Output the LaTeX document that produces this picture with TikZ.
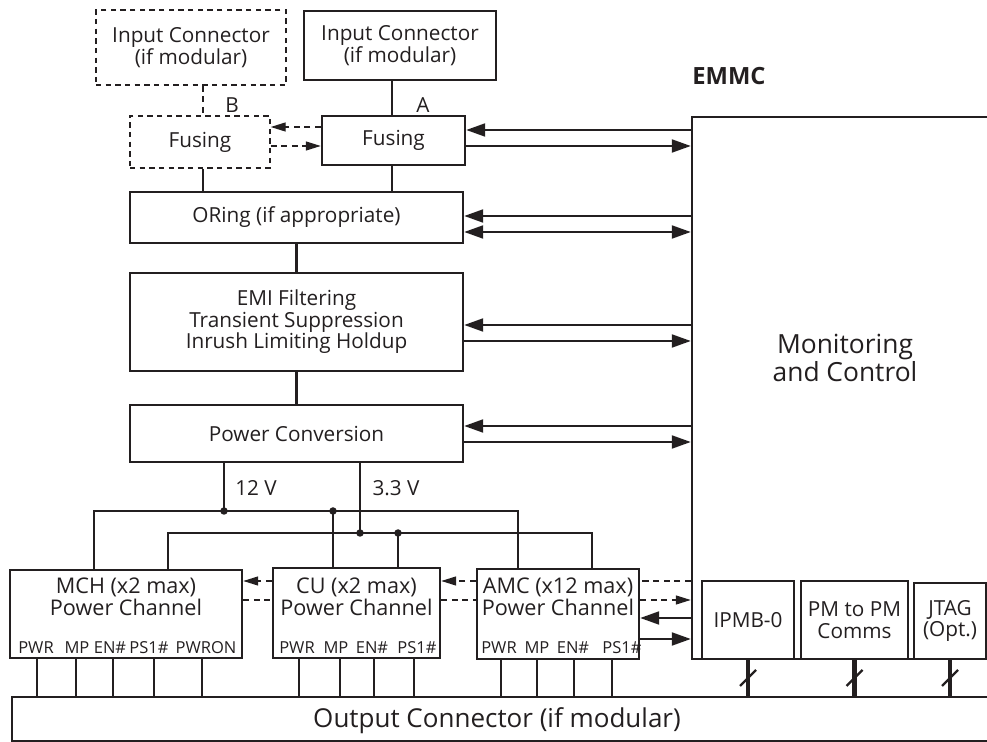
\documentclass[tikz,border=0pt]{standalone}
\usepackage{fontspec}
\setmainfont{Open Sans}
\usepackage{tikz}
\usetikzlibrary{arrows.meta,calc}
\usepackage{xcolor}
\definecolor{pmink}{RGB}{35,31,32}
\newcommand{\mainsize}{\fontsize{11.8}{12.2}\selectfont}
\newcommand{\chansize}{\fontsize{12.3}{12.4}\selectfont}
\newcommand{\pinsize}{\fontsize{9.4}{9.6}\selectfont}
\tikzset{
  blockbox/.style={draw=pmink,line width=1.4pt,inner sep=0pt,align=center,font=\mainsize,fill=white},
  optbox/.style={draw=pmink,line width=0.8pt,dash pattern=on 3pt off 2.5pt,inner sep=0pt,align=center,font=\mainsize},
  wire/.style={draw=pmink,line width=1.2pt},
  optwire/.style={draw=pmink,line width=0.8pt,dash pattern=on 3.5pt off 2.5pt},
  sigarrow/.style={wire,-{Triangle[length=3.8mm,width=2.6mm]}},
  dualarrow/.style={wire,{Triangle[length=3.8mm,width=2.6mm]}-{Triangle[length=3.8mm,width=2.6mm]}},
  optarrow/.style={optwire,-{Triangle[length=3mm,width=1.8mm]}},
  junction/.style={circle,fill=pmink,inner sep=0pt,minimum size=1.5mm},
  pinlabel/.style={font=\pinsize,inner sep=0pt,anchor=base},
  textlabel/.style={font=\mainsize,inner sep=0pt,anchor=base},
  busline/.style={draw=pmink,line width=2.6pt},
  slashmark/.style={draw=pmink,line width=1.3pt}
}

\begin{document}
\begin{tikzpicture}[x=0.2mm,y=-0.2mm,text=pmink]
  \useasboundingbox (0,0) rectangle (987,742);
  \clip (0,0) rectangle (987,742);
  % input chain
  \node[optbox,minimum width=38mm,minimum height=15mm] (incB) at (191,47.5) {Input Connector\\(if modular)};
  \node[blockbox,minimum width=38.4mm,minimum height=13.8mm] (incA) at (400,45.5) {Input Connector\\(if modular)};
  \node[optbox,minimum width=28mm,minimum height=10.4mm] (fuseB) at (200,142) {Fusing};
  \node[blockbox,minimum width=28.6mm,minimum height=9.8mm] (fuseA) at (393.5,140.5) {Fusing};
  \node[blockbox,minimum width=66.6mm,minimum height=10.2mm] (oring) at (296.5,217.5) {ORing (if appropriate)};
  \node[blockbox,minimum width=66.6mm,minimum height=19.6mm] (emi) at (296.5,322) {EMI Filtering\\Transient Suppression\\Inrush Limiting Holdup};
  \node[blockbox,minimum width=66.6mm,minimum height=11.4mm] (pconv) at (296.5,433.5) {Power Conversion};
  \node[textlabel] (labB) at (232,113) {B};
  \node[textlabel] (labA) at (423,113) {A};
  % EMMC
  \node[blockbox,minimum width=61.6mm,minimum height=108.4mm] (emmc) at (846,388) {};
  \node[font=\fontsize{13.5}{14}\selectfont\bfseries,anchor=base west,inner sep=0pt] (emmctitle) at (692,85) {EMMC};
  \node[font=\fontsize{15}{13.8}\selectfont,align=center] (montext) at (845,358) {Monitoring\\and Control};
  \node[blockbox,minimum width=18.4mm,minimum height=15.6mm] (ipmb) at (748,620) {IPMB-0};
  \node[blockbox,minimum width=21.4mm,minimum height=15.6mm] (pmpm) at (854.5,620) {PM to PM\\Comms};
  \node[blockbox,minimum width=14.4mm,minimum height=15.2mm] (jtag) at (950,621) {JTAG\\(Opt.)};
  % power channels
  \node[blockbox,minimum width=46.4mm,minimum height=17.6mm] (mch) at (126,614) {};
  \node[blockbox,minimum width=33.4mm,minimum height=18mm] (cu) at (356.5,613) {};
  \node[blockbox,minimum width=32.4mm,minimum height=18mm] (amc) at (558,614) {};
  \node[font=\chansize,align=center] (mchtitle) at (126,597) {MCH (x2 max)\\Power Channel};
  \node[font=\chansize,align=center] (cutitle) at (356.5,597) {CU (x2 max)\\Power Channel};
  \node[font=\chansize,align=center] (amctitle) at (558,597) {AMC (x12 max)\\Power Channel};
  \node[blockbox,minimum width=197.6mm,minimum height=8.8mm] (outc) at (506,719) {};
  \node[font=\fontsize{14.8}{15}\selectfont] (outtext) at (497,721) {Output Connector (if modular)};

  % input side wiring
  \draw[optwire] (incB.south -| 203,0) -- (fuseB.north -| 203,0);
  \draw[wire] (incA.south -| 392,0) -- (fuseA.north -| 392,0);
  \draw[wire] (fuseB.south -| 203,0) -- (oring.north -| 203,0);
  \draw[wire] (fuseA.south -| 392,0) -- (oring.north -| 392,0);
  \draw[wire] (oring) -- (emi);
  \draw[wire] (emi) -- (pconv);
  \draw[optarrow] (fuseA.west |- 0,127) -- (fuseB.east |- 0,127);
  \draw[optarrow] (fuseB.east |- 0,146) -- (fuseA.west |- 0,146);

  % monitoring lines
  \foreach \blk/\ya/\yb in {fuseA/130/146, emi/325/341, pconv/426/442} {
    \draw[sigarrow] (emmc.west |- 0,\ya) -- (\blk.east |- 0,\ya);
    \draw[sigarrow] (\blk.east |- 0,\yb) -- (emmc.west |- 0,\yb);
  }
  \draw[sigarrow] (emmc.west |- 0,216) -- (oring.east |- 0,216);
  \draw[dualarrow] (oring.east |- 0,232) -- (emmc.west |- 0,232);

  % 12 V and 3.3 V distribution
  \coordinate (b12) at (224,511);
  \coordinate (b33) at (360,533);
  \coordinate (c12) at (333,511);
  \coordinate (c33) at (398,533);
  \draw[wire] (pconv.south -| b12) -- (b12);
  \draw[wire] (pconv.south -| b33) -- (b33);
  \draw[wire] (mch.north -| 94,0) |- (b12) -| (amc.north -| 518,0);
  \draw[wire] (mch.north -| 168,0) |- (b33) -| (amc.north -| 592,0);
  \draw[wire] (c12) -- (cu.north -| c12);
  \draw[wire] (c33) -- (cu.north -| c33);
  \foreach \j in {b12,c12,b33,c33} \node[junction] (dot\j) at (\j) {};
  \node[textlabel] (lab12) at (256,496) {12 V};
  \node[textlabel] (lab33) at (396,496) {3.3 V};

  % channel signals
  \draw[optwire] (emmc.west |- 0,581) -- (amc.east |- 0,581);
  \draw[optarrow] (amc.west |- 0,581) -- (cu.east |- 0,581);
  \draw[optarrow] (cu.west |- 0,581) -- (mch.east |- 0,581);
  \draw[optwire] (mch.east |- 0,600) -- (cu.west |- 0,600);
  \draw[optwire] (cu.east |- 0,600) -- (amc.west |- 0,600);
  \draw[optarrow] (amc.east |- 0,600) -- (emmc.west |- 0,600);
  \draw[sigarrow] (emmc.west |- 0,618) -- (amc.east |- 0,618);
  \draw[sigarrow] (amc.east |- 0,639) -- (emmc.west |- 0,639);

  % pins to output connector
  \foreach \xp/\xl/\pin [count=\k] in {37/36/PWR, 76/77/MP, 113/110/EN\#, 154/149/PS1\#, 202/206/PWRON} {
    \draw[wire] (mch.south -| \xp,0) -- (outc.north -| \xp,0);
    \node[pinlabel] (mchpin\k) at (\xl,653) {\pin};
  }
  \foreach \xp/\xl/\pin [count=\k] in {299/297/PWR, 340/336/MP, 374/372/EN\#, 414/417/PS1\#} {
    \draw[wire] (cu.south -| \xp,0) -- (outc.north -| \xp,0);
    \node[pinlabel] (cupin\k) at (\xl,653) {\pin};
  }
  \foreach \xp/\xl/\pin [count=\k] in {501/499/PWR, 537/537/MP, 574/573/EN\#, 612/622/PS1\#} {
    \draw[wire] (amc.south -| \xp,0) -- (outc.north -| \xp,0);
    \node[pinlabel] (amcpin\k) at (\xl,653) {\pin};
  }
  \foreach \sub in {ipmb,pmpm,jtag} {
    \draw[busline] (\sub.south) -- coordinate[midway] (\sub-mid) (outc.north -| \sub.south);
    \draw[slashmark] ($(\sub-mid)+(-8,8)$) -- ($(\sub-mid)+(8,-8)$);
  }
\end{tikzpicture}
\end{document}
